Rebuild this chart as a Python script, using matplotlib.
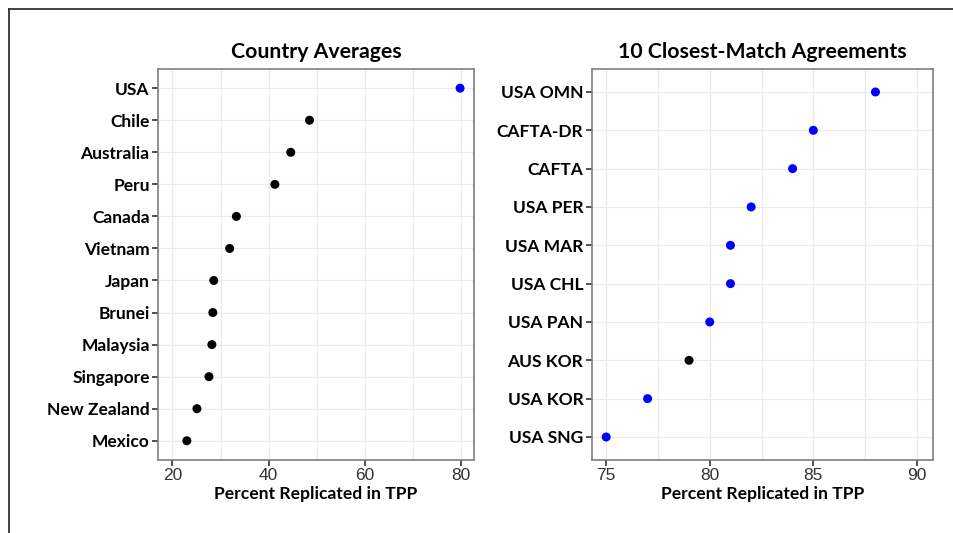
import matplotlib
matplotlib.use("Agg")
import matplotlib.pyplot as plt
from matplotlib.lines import Line2D
from matplotlib.ticker import MultipleLocator

# Country averages (top to bottom)
paesi = ["USA", "Chile", "Australia", "Peru", "Canada", "Vietnam", "Japan",
         "Brunei", "Malaysia", "Singapore", "New Zealand", "Mexico"]
medie = [79.8, 48.5, 44.6, 41.3, 33.3, 31.9, 28.6, 28.4, 28.2, 27.6, 25.1, 23.0]
colori_paesi = ["blue"] + ["black"] * 11

# 10 closest-match agreements (top to bottom)
accordi = ["USA OMN", "CAFTA-DR", "CAFTA", "USA PER", "USA MAR", "USA CHL",
           "USA PAN", "AUS KOR", "USA KOR", "USA SNG"]
percentuali = [88, 85, 84, 82, 81, 81, 80, 79, 77, 75]
colori_accordi = ["blue"] * 7 + ["black"] + ["blue"] * 2

BOLD = "Lato"
NUM = "Liberation Sans"
GRID = "#ebebeb"


def pannello(ax, etichette, valori, colori, titolo, xlim, major, minor):
    n = len(etichette)
    y = list(range(n))[::-1]
    ax.scatter(valori, y, s=42, c=colori, zorder=3, linewidths=0)
    ax.set_xlim(*xlim)
    ax.set_ylim(-0.6, n - 0.4)
    ax.set_yticks(y)
    ax.set_yticklabels(etichette, fontfamily=BOLD, fontweight="bold", fontsize=12.5)
    ax.xaxis.set_major_locator(MultipleLocator(major))
    ax.xaxis.set_minor_locator(MultipleLocator(minor))
    for t in ax.get_xticklabels():
        t.set_fontfamily(NUM)
        t.set_fontsize(12.5)
        t.set_color("#333333")
    ax.grid(True, which="both", color=GRID, lw=0.9)
    ax.set_axisbelow(True)
    ax.tick_params(which="minor", length=0)
    ax.tick_params(which="major", length=4, width=1.2, color="#333333", pad=2)
    for s in ax.spines.values():
        s.set_color("#7f7f7f")
        s.set_linewidth(1.2)
    ax.set_title(titolo, fontfamily=BOLD, fontweight="bold", fontsize=15.3, pad=8)
    ax.set_xlabel("Percent Replicated in TPP", fontfamily=BOLD, fontweight="bold",
                  fontsize=12.6, labelpad=2)


fig = plt.figure(figsize=(9.54, 5.33), dpi=100)
ax1 = fig.add_axes([0.1656, 0.137, 0.3313, 0.7336])
ax2 = fig.add_axes([0.6202, 0.137, 0.3574, 0.7336])

pannello(ax1, paesi, medie, colori_paesi, "Country Averages", (17.0, 82.7), 20, 10)
pannello(ax2, accordi, percentuali, colori_accordi, "10 Closest-Match Agreements",
         (74.3, 90.76), 5, 2.5)

# cornice parziale dell'immagine originale
fig.add_artist(Line2D([9 / 954, 9 / 954], [0, 1 - 9 / 533], color="#222222", lw=1.2))
fig.add_artist(Line2D([9 / 954, 1], [1 - 9 / 533, 1 - 9 / 533], color="#222222", lw=1.2))

fig.savefig("out.png", dpi=100)
